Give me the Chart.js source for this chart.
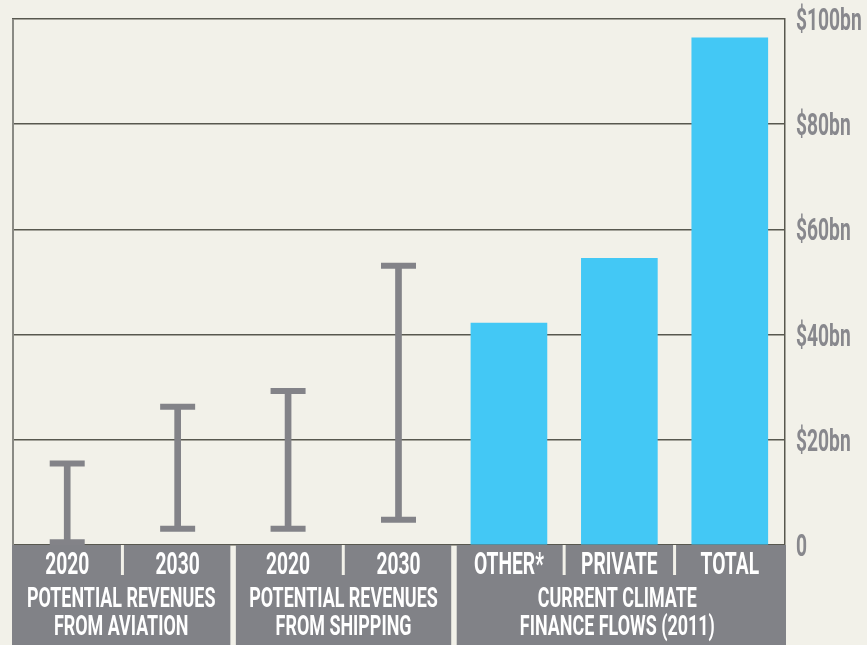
<!DOCTYPE html>
<html>
<head>
<meta charset="utf-8">
<script src="https://cdn.jsdelivr.net/npm/chart.js@4"></script>
<style>
  html, body { margin: 0; padding: 0; background: #f2f1e9; }
  #wrap { width: 867px; height: 645px; position: relative; }
</style>
</head>
<body>
<div id="wrap"><canvas id="chart"></canvas></div>
<script>
// Category labels along the bottom (one per column)
const categories = ['2020', '2030', '2020', '2030', 'OTHER*', 'PRIVATE', 'TOTAL'];

// Group captions spanning several columns: [first index, last index, lines]
const groups = [
  [0, 1, ['POTENTIAL REVENUES', 'FROM AVIATION']],
  [2, 3, ['POTENTIAL REVENUES', 'FROM SHIPPING']],
  [4, 6, ['CURRENT CLIMATE', 'FINANCE FLOWS (2011)']]
];

// Potential revenue ranges, $bn (low / high)
const rangeLow  = [0.5, 3.1, 3.1, 4.8, null, null, null];
const rangeHigh = [15.5, 26.3, 29.3, 53.1, null, null, null];

// Current climate finance flows, $bn
const flows = [null, null, null, null, 42.2, 54.5, 96.4];

// Value axis
const yTicks = [0, 20, 40, 60, 80, 100];
const yTickLabels = ['0', '$20bn', '$40bn', '$60bn', '$80bn', '$100bn'];

const GRAY = '#838388';
const BOX = '#818287';
const BLUE = '#43c8f5';
const CREAM = '#f2f1e9';
const FONT = 'Roboto, "Liberation Sans", sans-serif';

function condensedText(ctx, text, x, y, size, sx, align, color) {
  ctx.save();
  ctx.font = '700 ' + size + 'px ' + FONT;
  ctx.fillStyle = color;
  ctx.textAlign = align;
  ctx.textBaseline = 'alphabetic';
  ctx.translate(x, y);
  ctx.scale(sx, 1);
  ctx.fillText(text, 0, 0);
  ctx.restore();
}

// Left frame edge, bottom label panels and the right-hand value labels
const decorations = {
  id: 'decorations',
  beforeDatasetsDraw(chart) {
    const { ctx, chartArea } = chart;
    ctx.save();
    ctx.strokeStyle = '#8a8a84';
    ctx.lineWidth = 2;
    ctx.beginPath();
    ctx.moveTo(chartArea.left + 1, chartArea.top);
    ctx.lineTo(chartArea.left + 1, chartArea.bottom);
    ctx.stroke();
    ctx.restore();
  },
  afterDatasetsDraw(chart) {
    const { ctx, chartArea } = chart;
    const x = chart.scales.x;
    const y = chart.scales.y;
    const step = x.getPixelForValue(1) - x.getPixelForValue(0);
    const top = chartArea.bottom;
    const bottom = chart.height;

    ctx.save();
    groups.forEach(([a, b, lines], gi) => {
      let left = x.getPixelForValue(a) - step / 2;
      let right = x.getPixelForValue(b) + step / 2;
      left = gi === 0 ? chartArea.left : left + 3;
      right = gi === groups.length - 1 ? chartArea.right + 1 : right - 2.5;
      ctx.fillStyle = BOX;
      ctx.fillRect(left, top, right - left, bottom - top);

      // thin separators between the column labels inside a panel
      for (let i = a; i < b; i++) {
        const sx = x.getPixelForValue(i) + step / 2;
        ctx.fillStyle = CREAM;
        ctx.fillRect(sx - 1.5, top, 3, 30);
      }
      const cx = (left + right) / 2 - (gi === 2 ? 4 : 0);
      condensedText(ctx, lines[0], cx, top + 62, 28, 0.64, 'center', '#ffffff');
      condensedText(ctx, lines[1], cx, top + 90, 28, 0.64, 'center', '#ffffff');
    });

    categories.forEach((c, i) => {
      condensedText(ctx, c, x.getPixelForValue(i), top + 29, 31, 0.62, 'center', '#ffffff');
    });

    // value labels to the right of the frame
    yTicks.forEach((v, i) => {
      condensedText(ctx, yTickLabels[i], chartArea.right + 11, y.getPixelForValue(v) + 11,
        31, 0.62, 'left', '#88888d');
    });
    ctx.restore();
  }
};

new Chart(document.getElementById('chart'), {
  data: {
    labels: categories,
    datasets: [
      {
        type: 'bar',
        label: 'Range',
        data: rangeLow.map((lo, i) => lo === null ? null : [lo, rangeHigh[i]]),
        backgroundColor: GRAY,
        barThickness: 6,
        grouped: false,
        order: 3
      },
      {
        type: 'bar',
        label: 'Flows',
        data: flows,
        backgroundColor: BLUE,
        barThickness: 76,
        grouped: false,
        order: 4
      },
      {
        type: 'line',
        label: 'Low',
        data: rangeLow,
        showLine: false,
        pointStyle: 'line',
        pointRadius: 17.5,
        pointBorderWidth: 6,
        borderWidth: 6,
        borderColor: GRAY,
        pointBorderColor: GRAY,
        order: 1
      },
      {
        type: 'line',
        label: 'High',
        data: rangeHigh,
        showLine: false,
        pointStyle: 'line',
        pointRadius: 17.5,
        pointBorderWidth: 6,
        borderWidth: 6,
        borderColor: GRAY,
        pointBorderColor: GRAY,
        order: 1
      }
    ]
  },
  options: {
    responsive: true,
    maintainAspectRatio: false,
    animation: false,
    layout: { autoPadding: false, padding: { left: 12, top: 19, right: 82, bottom: 100 } },
    plugins: { legend: { display: false }, tooltip: { enabled: false } },
    scales: {
      x: { type: 'category', display: false, offset: true },
      y: {
        position: 'right',
        min: 0,
        max: 100,
        afterBuildTicks(scale) { scale.ticks = yTicks.map(v => ({ value: v })); },
        ticks: { display: false },
        grid: { color: '#58584f', lineWidth: 1.5, drawTicks: false },
        border: { color: '#58584f', width: 1.5 }
      }
    }
  },
  plugins: [decorations]
});
</script>
</body>
</html>
